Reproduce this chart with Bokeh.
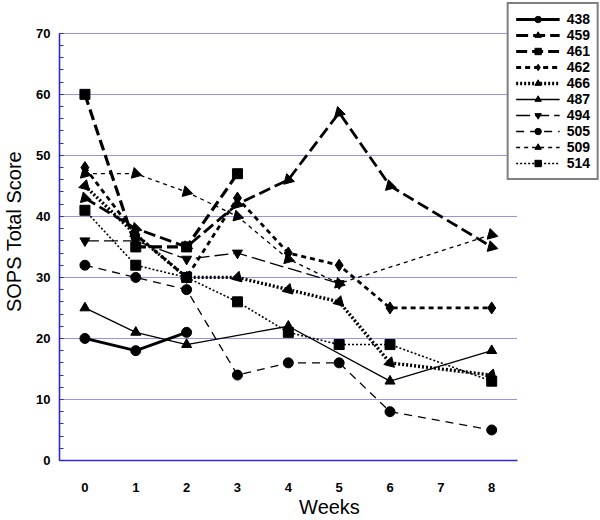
import math
from bokeh.plotting import figure
from bokeh.models import Legend, LegendItem, FixedTicker, Range1d
from bokeh.embed import file_html
from bokeh.resources import INLINE

# ---- data ----
week_ticks = [0, 1, 2, 3, 4, 5, 6, 7, 8]
score_ticks = [0, 10, 20, 30, 40, 50, 60, 70]

patients = ["438", "459", "461", "462", "466", "487", "494", "505", "509", "514"]

weeks_438 = [0, 1, 2]
sops_438 = [20, 18, 21]
weeks_459 = [0, 1, 2, 3, 4, 5, 6, 8]
sops_459 = [43, 38, 35, 42, 46, 57, 45, 35]
weeks_461 = [0, 1, 2, 3]
sops_461 = [60, 35, 35, 47]
weeks_462 = [0, 1, 2, 3, 4, 5, 6, 8]
sops_462 = [48, 37, 30, 43, 34, 32, 25, 25]
weeks_466 = [0, 1, 2, 3, 4, 5, 6, 8]
sops_466 = [45, 37, 30, 30, 28, 26, 16, 14]
weeks_487 = [0, 1, 2, 4, 6, 8]
sops_487 = [25, 21, 19, 22, 13, 18]
weeks_494 = [0, 1, 2, 3, 5]
sops_494 = [36, 36, 33, 34, 29]
weeks_505 = [0, 1, 2, 3, 4, 5, 6, 8]
sops_505 = [32, 30, 28, 14, 16, 16, 8, 5]
weeks_509 = [0, 1, 2, 3, 4, 5, 8]
sops_509 = [47, 47, 44, 40, 33, 29, 37]
weeks_514 = [0, 1, 2, 3, 4, 5, 6, 8]
sops_514 = [41, 32, 30, 26, 21, 19, 19, 13]

series = {
    "438": (weeks_438, sops_438),
    "459": (weeks_459, sops_459),
    "461": (weeks_461, sops_461),
    "462": (weeks_462, sops_462),
    "466": (weeks_466, sops_466),
    "487": (weeks_487, sops_487),
    "494": (weeks_494, sops_494),
    "505": (weeks_505, sops_505),
    "509": (weeks_509, sops_509),
    "514": (weeks_514, sops_514),
}

# ---- styles ----
styles = {
    "438": dict(marker="circle", angle=0.0, lw=2.8, dash="solid", size=10),
    "459": dict(marker="triangle", angle=0.26, lw=2.8, dash="12 5", size=11),
    "461": dict(marker="square", angle=0.0, lw=3.2, dash="11 5", size=10),
    "462": dict(marker="diamond", angle=0.0, lw=2.8, dash="5 4", size=12),
    "466": dict(marker="triangle", angle=-0.26, lw=3.4, dash="2 2", size=11),
    "487": dict(marker="triangle", angle=0.0, lw=1.3, dash="solid", size=10),
    "494": dict(marker="inverted_triangle", angle=0.0, lw=1.3, dash="14 5", size=10),
    "505": dict(marker="circle", angle=0.0, lw=1.3, dash="8 6", size=10),
    "509": dict(marker="triangle", angle=0.26, lw=1.3, dash="4 4", size=11),
    "514": dict(marker="square", angle=0.0, lw=1.6, dash="2 2", size=10),
}

BLUE = "#2b2bd0"
FONT = "Liberation Sans"
X_LO, X_HI = -0.5, 8.5
Y_LO, Y_HI = 0, 70

p = figure(width=600, height=520, output_backend="svg", toolbar_location=None,
           x_range=Range1d(X_LO, 10.12), y_range=Range1d(Y_LO, 75.05),
           min_border_left=8, min_border_top=2, min_border_right=1, min_border_bottom=10)
p.outline_line_color = None
p.background_fill_color = "white"

items = []
for name in patients:
    xs, ys = series[name]
    st = styles[name]
    ln = p.line(xs, ys, line_color="black", line_width=st["lw"], line_dash=st["dash"])
    sc = p.scatter(xs, ys, marker=st["marker"], size=st["size"], angle=st["angle"],
                   fill_color="black", line_color="black")
    items.append(LegendItem(label=name, renderers=[ln, sc]))

# axes
p.xaxis.ticker = FixedTicker(ticks=week_ticks)
p.yaxis.ticker = FixedTicker(ticks=score_ticks, minor_ticks=list(range(0, 71, 2)))
p.xaxis.bounds = (X_LO, X_HI)
p.yaxis.bounds = (Y_LO, Y_HI)
p.xaxis.axis_label = "Weeks"
p.yaxis.axis_label = "SOPS Total Score"
for ax in (p.xaxis[0], p.yaxis[0]):
    ax.axis_line_color = BLUE
    ax.axis_line_width = 1.6
    ax.major_label_text_font = FONT
    ax.major_label_text_font_style = "bold"
    ax.major_label_text_font_size = "13px"
    ax.major_label_text_color = "black"
    ax.axis_label_text_font = FONT
    ax.axis_label_text_font_style = "normal"
    ax.axis_label_text_color = "black"
p.xaxis.major_tick_line_color = None
p.xaxis.minor_tick_line_color = None
p.xaxis.major_label_standoff = 16
p.xaxis.axis_label_standoff = 1
p.xaxis.axis_label_text_font_size = "20px"
p.yaxis.major_tick_in = 4
p.yaxis.major_tick_out = 0
p.yaxis.minor_tick_in = 4
p.yaxis.minor_tick_out = 0
p.yaxis.major_tick_line_color = BLUE
p.yaxis.minor_tick_line_color = BLUE
p.yaxis.major_label_standoff = 9
p.yaxis.axis_label_standoff = 8
p.yaxis.axis_label_text_font_size = "20px"

p.xgrid.grid_line_color = None
p.ygrid.grid_line_color = BLUE
p.ygrid.grid_line_dash = "1 1"
p.ygrid.grid_line_width = 1
p.ygrid.cross_bounds = (X_LO, X_HI)

legend = Legend(items=items, location="top_right")
legend.border_line_color = "black"
legend.border_line_width = 2
legend.background_fill_color = "white"
legend.background_fill_alpha = 1
legend.label_text_font = FONT
legend.label_text_font_style = "bold"
legend.label_text_font_size = "14px"
legend.label_text_color = "black"
legend.label_height = 16
legend.glyph_height = 16
legend.glyph_width = 44
legend.spacing = 0
legend.padding = 7
legend.margin = 0
legend.label_standoff = 7
p.add_layout(legend, "center")

open("out.html", "w").write(file_html(p, INLINE))
